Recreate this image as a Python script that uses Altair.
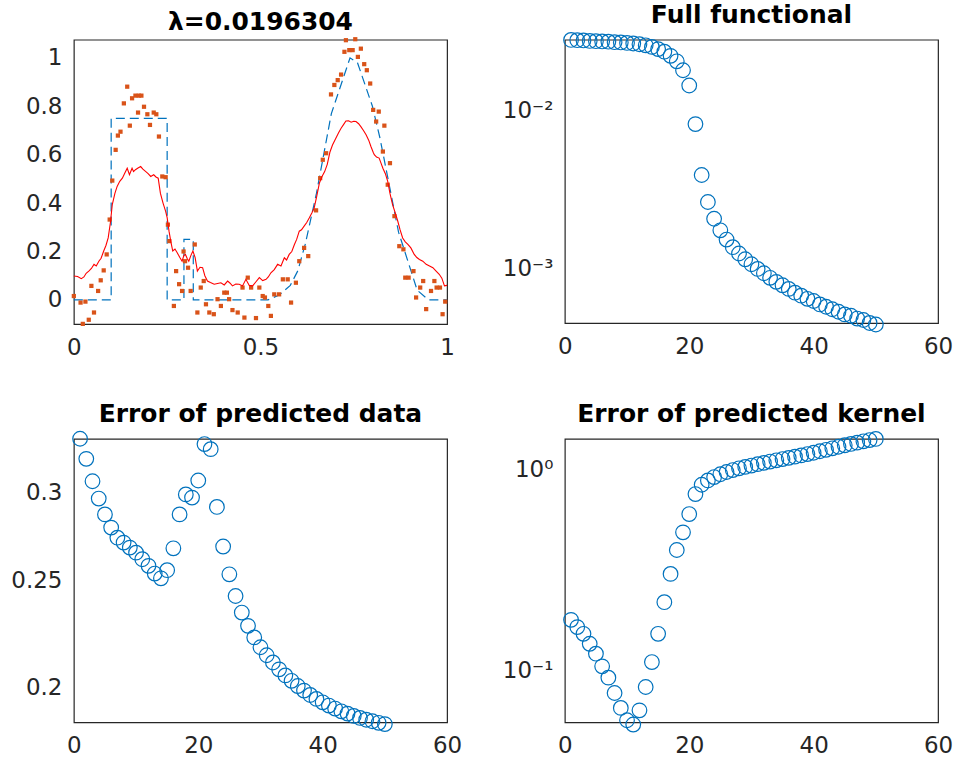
import altair as alt
import pandas as pd

# ---------------- data ----------------
# top-left: true kernel (dashed), noisy data (dots), estimate (red)
true_x = [0.0, 0.1, 0.1, 0.25, 0.25, 0.295, 0.295, 0.32, 0.32, 0.52, 0.55, 0.58, 0.60, 0.62,
          0.65, 0.69, 0.74, 0.76, 0.80, 0.82, 0.87, 0.92, 0.95, 1.0]
true_y = [0.0, 0.0, 0.75, 0.75, 0.0, 0.0, 0.25, 0.25, 0.0, 0.0, 0.02, 0.06, 0.12, 0.23,
          0.44, 0.77, 1.0, 0.98, 0.80, 0.67, 0.28, 0.04, 0.0, 0.0]

data_x = [0.000, 0.018, 0.024, 0.031, 0.040, 0.047, 0.054, 0.065, 0.072, 0.080, 0.088, 0.096,
          0.103, 0.112, 0.118, 0.125, 0.134, 0.143, 0.150, 0.156, 0.165, 0.172, 0.174, 0.181,
          0.188, 0.197, 0.204, 0.214, 0.221, 0.228, 0.237, 0.246, 0.252, 0.256, 0.268, 0.274,
          0.282, 0.290, 0.294, 0.298, 0.306, 0.313, 0.324, 0.331, 0.340, 0.348, 0.354, 0.363,
          0.375, 0.385, 0.394, 0.403, 0.410, 0.416, 0.425, 0.439, 0.452, 0.457, 0.466, 0.475,
          0.488, 0.497, 0.506, 0.512, 0.521, 0.528, 0.537, 0.550, 0.560, 0.573, 0.582, 0.595,
          0.604, 0.617, 0.628, 0.649, 0.660, 0.667, 0.676, 0.689, 0.698, 0.707, 0.716, 0.725,
          0.729, 0.738, 0.747, 0.754, 0.761, 0.769, 0.778, 0.785, 0.794, 0.802, 0.810, 0.817,
          0.828, 0.832, 0.841, 0.847, 0.859, 0.872, 0.883, 0.888, 0.897, 0.910, 0.917, 0.928,
          0.936, 0.944, 0.957, 0.966, 0.972, 0.981, 0.988, 0.995]
data_y = [0.016, -0.011, -0.099, -0.007, -0.082, 0.058, -0.052, 0.037, 0.081, 0.122, 0.188, 0.332,
          0.493, 0.620, 0.679, 0.695, 0.812, 0.881, 0.720, 0.833, 0.844, 0.774, 0.844, 0.844,
          0.798, 0.767, 0.723, 0.774, 0.767, 0.675, 0.510, 0.507, 0.311, 0.243, -0.025, 0.119,
          0.065, 0.037, 0.200, 0.160, 0.133, 0.037, 0.229, -0.052, 0.051, 0.078, -0.018, -0.052,
          -0.059, 0.003, -0.025, 0.030, 0.030, 0.003, -0.042, -0.052, 0.051, -0.073, 0.092, 0.051,
          -0.075, 0.051, 0.016, 0.010, -0.025, -0.066, 0.023, 0.023, 0.085, 0.085, -0.011, 0.071,
          0.160, 0.215, 0.181, 0.370, 0.503, 0.579, 0.606, 0.849, 0.888, 0.908, 0.931, 1.025,
          1.073, 1.032, 1.032, 1.077, 1.004, 1.038, 0.974, 0.949, 0.894, 0.785, 0.737, 0.778,
          0.613, 0.720, 0.476, 0.565, 0.346, 0.222, 0.209, 0.092, 0.092, 0.119, 0.010, 0.051,
          0.078, -0.038, 0.037, 0.078, 0.051, 0.051, -0.059, -0.007]

est_x = [0.000, 0.010, 0.020, 0.027, 0.033, 0.040, 0.047, 0.054, 0.060, 0.067, 0.073, 0.080,
         0.086, 0.092, 0.098, 0.103, 0.110, 0.116, 0.123, 0.130, 0.136, 0.143, 0.149, 0.156,
         0.160, 0.165, 0.172, 0.179, 0.185, 0.192, 0.199, 0.206, 0.214, 0.220, 0.226, 0.232,
         0.239, 0.246, 0.250, 0.255, 0.260, 0.265, 0.271, 0.277, 0.284, 0.290, 0.295, 0.299,
         0.304, 0.308, 0.314, 0.319, 0.325, 0.331, 0.338, 0.345, 0.351, 0.358, 0.366, 0.376,
         0.385, 0.394, 0.403, 0.412, 0.418, 0.425, 0.434, 0.443, 0.452, 0.461, 0.470, 0.479,
         0.488, 0.497, 0.506, 0.515, 0.521, 0.528, 0.537, 0.546, 0.555, 0.564, 0.570, 0.577,
         0.584, 0.591, 0.597, 0.604, 0.610, 0.617, 0.624, 0.631, 0.638, 0.644, 0.651, 0.658,
         0.665, 0.672, 0.679, 0.686, 0.693, 0.702, 0.709, 0.716, 0.723, 0.729, 0.736, 0.743,
         0.750, 0.756, 0.763, 0.769, 0.776, 0.783, 0.790, 0.796, 0.802, 0.805, 0.811, 0.818,
         0.823, 0.828, 0.835, 0.841, 0.847, 0.854, 0.861, 0.868, 0.874, 0.881, 0.888, 0.895,
         0.903, 0.912, 0.919, 0.926, 0.935, 0.944, 0.953, 0.962, 0.970, 0.979, 0.986, 0.993,
         1.000]
est_y = [0.099, 0.097, 0.088, 0.095, 0.110, 0.119, 0.130, 0.147, 0.140, 0.160, 0.172, 0.202,
         0.225, 0.256, 0.320, 0.394, 0.440, 0.469, 0.490, 0.503, 0.522, 0.544, 0.517, 0.544,
         0.530, 0.538, 0.545, 0.551, 0.540, 0.531, 0.522, 0.510, 0.517, 0.508, 0.503, 0.440,
         0.400, 0.366, 0.340, 0.284, 0.240, 0.202, 0.210, 0.195, 0.175, 0.160, 0.185, 0.188,
         0.170, 0.160, 0.185, 0.202, 0.175, 0.119, 0.135, 0.133, 0.100, 0.078, 0.072, 0.065,
         0.068, 0.071, 0.062, 0.078, 0.070, 0.058, 0.066, 0.065, 0.058, 0.085, 0.060, 0.058,
         0.075, 0.092, 0.080, 0.085, 0.095, 0.112, 0.125, 0.147, 0.140, 0.174, 0.165, 0.188,
         0.200, 0.229, 0.250, 0.284, 0.290, 0.305, 0.320, 0.339, 0.360, 0.380, 0.430, 0.483,
         0.510, 0.530, 0.560, 0.610, 0.640, 0.668, 0.690, 0.709, 0.725, 0.739, 0.740, 0.734,
         0.738, 0.737, 0.728, 0.716, 0.700, 0.682, 0.660, 0.634, 0.610, 0.600, 0.590, 0.586,
         0.565, 0.544, 0.520, 0.490, 0.440, 0.394, 0.360, 0.325, 0.290, 0.256, 0.240, 0.229,
         0.215, 0.188, 0.175, 0.167, 0.160, 0.147, 0.140, 0.133, 0.120, 0.106, 0.090, 0.058,
         0.060]

# iteration panels
iters = list(range(1, 51))
full_functional = [0.0280, 0.0279, 0.0278, 0.0276, 0.0275, 0.0274, 0.0273, 0.0271, 0.0270, 0.0268,
                   0.0266, 0.0263, 0.0259, 0.0253, 0.0245, 0.0236, 0.0222, 0.0205, 0.0180, 0.0144,
                   0.0082, 0.0039, 0.00263, 0.00206, 0.00174, 0.00152, 0.00136, 0.00124, 0.00114, 0.00106,
                   0.00099, 0.00093, 0.00087, 0.00082, 0.00078, 0.00074, 0.00070, 0.00067, 0.00064, 0.00062,
                   0.00059, 0.00057, 0.00055, 0.00053, 0.00051, 0.00050, 0.00048, 0.00047, 0.00045, 0.00044]
err_data = [0.3358, 0.3220, 0.3073, 0.2964, 0.2868, 0.2790, 0.2732, 0.2704, 0.2676, 0.2648,
            0.2612, 0.2576, 0.2535, 0.2510, 0.2553, 0.2672, 0.2868, 0.2990, 0.2970, 0.3078,
            0.3321, 0.3286, 0.2913, 0.2682, 0.2531, 0.2419, 0.2337, 0.2273, 0.2219, 0.2174,
            0.2138, 0.2106, 0.2076, 0.2050, 0.2027, 0.2005, 0.1986, 0.1968, 0.1952, 0.1938,
            0.1925, 0.1913, 0.1902, 0.1893, 0.1884, 0.1876, 0.1869, 0.1863, 0.1857, 0.1852]
err_kernel = [0.1786, 0.1643, 0.1521, 0.1357, 0.1211, 0.1047, 0.0920, 0.0771, 0.0650, 0.0564,
              0.0537, 0.0632, 0.0826, 0.1100, 0.1521, 0.2188, 0.3027, 0.3981, 0.4876, 0.6015,
              0.7566, 0.842, 0.885, 0.920, 0.950, 0.975, 0.997, 1.017, 1.034, 1.050,
              1.067, 1.083, 1.099, 1.115, 1.131, 1.147, 1.163, 1.180, 1.198, 1.216,
              1.237, 1.258, 1.280, 1.303, 1.325, 1.346, 1.366, 1.387, 1.407, 1.425]

# ---------------- styling ----------------
BLUE = "#0072BD"
ORANGE = "#D95319"
W, H = 374, 284

df_true = pd.DataFrame({"x": true_x, "y": true_y, "i": range(len(true_x))})
df_data = pd.DataFrame({"x": data_x, "y": data_y})
df_est = pd.DataFrame({"x": est_x, "y": est_y, "i": range(len(est_x))})

xs_tl = alt.X("x:Q", scale=alt.Scale(domain=[0, 1], nice=False, zero=False),
              axis=alt.Axis(values=[0, 0.5, 1], format="~g"))
ys_tl = alt.Y("y:Q", scale=alt.Scale(domain=[-0.1, 1.075], nice=False, zero=False),
              axis=alt.Axis(values=[0, 0.2, 0.4, 0.6, 0.8, 1], format="~g"))

l_true = alt.Chart(df_true).mark_line(color=BLUE, strokeDash=[9, 5], strokeWidth=1.2).encode(
    x=xs_tl, y=ys_tl, order="i:Q")
l_data = alt.Chart(df_data).mark_square(color=ORANGE, size=18, opacity=1).encode(x=xs_tl, y=ys_tl)
l_est = alt.Chart(df_est).mark_line(color="red", strokeWidth=1.1).encode(x=xs_tl, y=ys_tl, order="i:Q")

tl = alt.layer(l_true, l_data, l_est).properties(width=W, height=H + 1, title="λ=0.0196304")

x_it = alt.X("it:Q", scale=alt.Scale(domain=[0, 60], nice=False, zero=False),
             axis=alt.Axis(values=[0, 20, 40, 60], format="d"))


def circles(vals, domain, ticks, label_expr=None, title=""):
    df = pd.DataFrame({"it": iters, "v": vals})
    ax = dict(values=ticks)
    if label_expr:
        ax["labelExpr"] = label_expr
    else:
        ax["format"] = "~g"
    return alt.Chart(df).mark_point(shape="circle", filled=False, size=215, strokeWidth=1.2,
                                    color=BLUE, opacity=1).encode(
        x=x_it,
        y=alt.Y("v:Q", scale=alt.Scale(type="log", domain=domain, nice=False, zero=False),
                axis=alt.Axis(**ax)),
    ).properties(width=W, height=H, title=title)


tr = circles(full_functional, [0.000449, 0.0281], [0.001, 0.01],
             "datum.value < 0.005 ? '10⁻³' : '10⁻²'", "Full functional")
bl = circles(err_data, [0.1859, 0.3357], [0.2, 0.25, 0.3], None, "Error of predicted data")
br = circles(err_kernel, [0.0551, 1.426], [0.1, 1],
             "datum.value < 0.5 ? '10⁻¹' : '10⁰'", "Error of predicted kernel")

chart = alt.concat(tl, tr, bl, br, columns=2, spacing={"row": 115, "column": 118},
                   bounds="flush").properties(
    padding={"left": 10, "top": 1, "right": 5, "bottom": 5},
    background="white",
).configure_view(
    stroke="#262626", strokeWidth=1.2, fill="white"
).configure_axis(
    grid=False, ticks=False, domain=False, title=None,
    labelFont="DejaVu Sans", labelFontSize=23, labelColor="#262626",
    labelPadding=12, labelFlush=False, labelOverlap=False,
).configure_title(
    font="DejaVu Sans", fontSize=25, fontWeight="bold", color="black", offset=2,
    anchor="middle", frame="group"
)

chart.save("out.html", embed_options={"renderer": "svg", "actions": False})
